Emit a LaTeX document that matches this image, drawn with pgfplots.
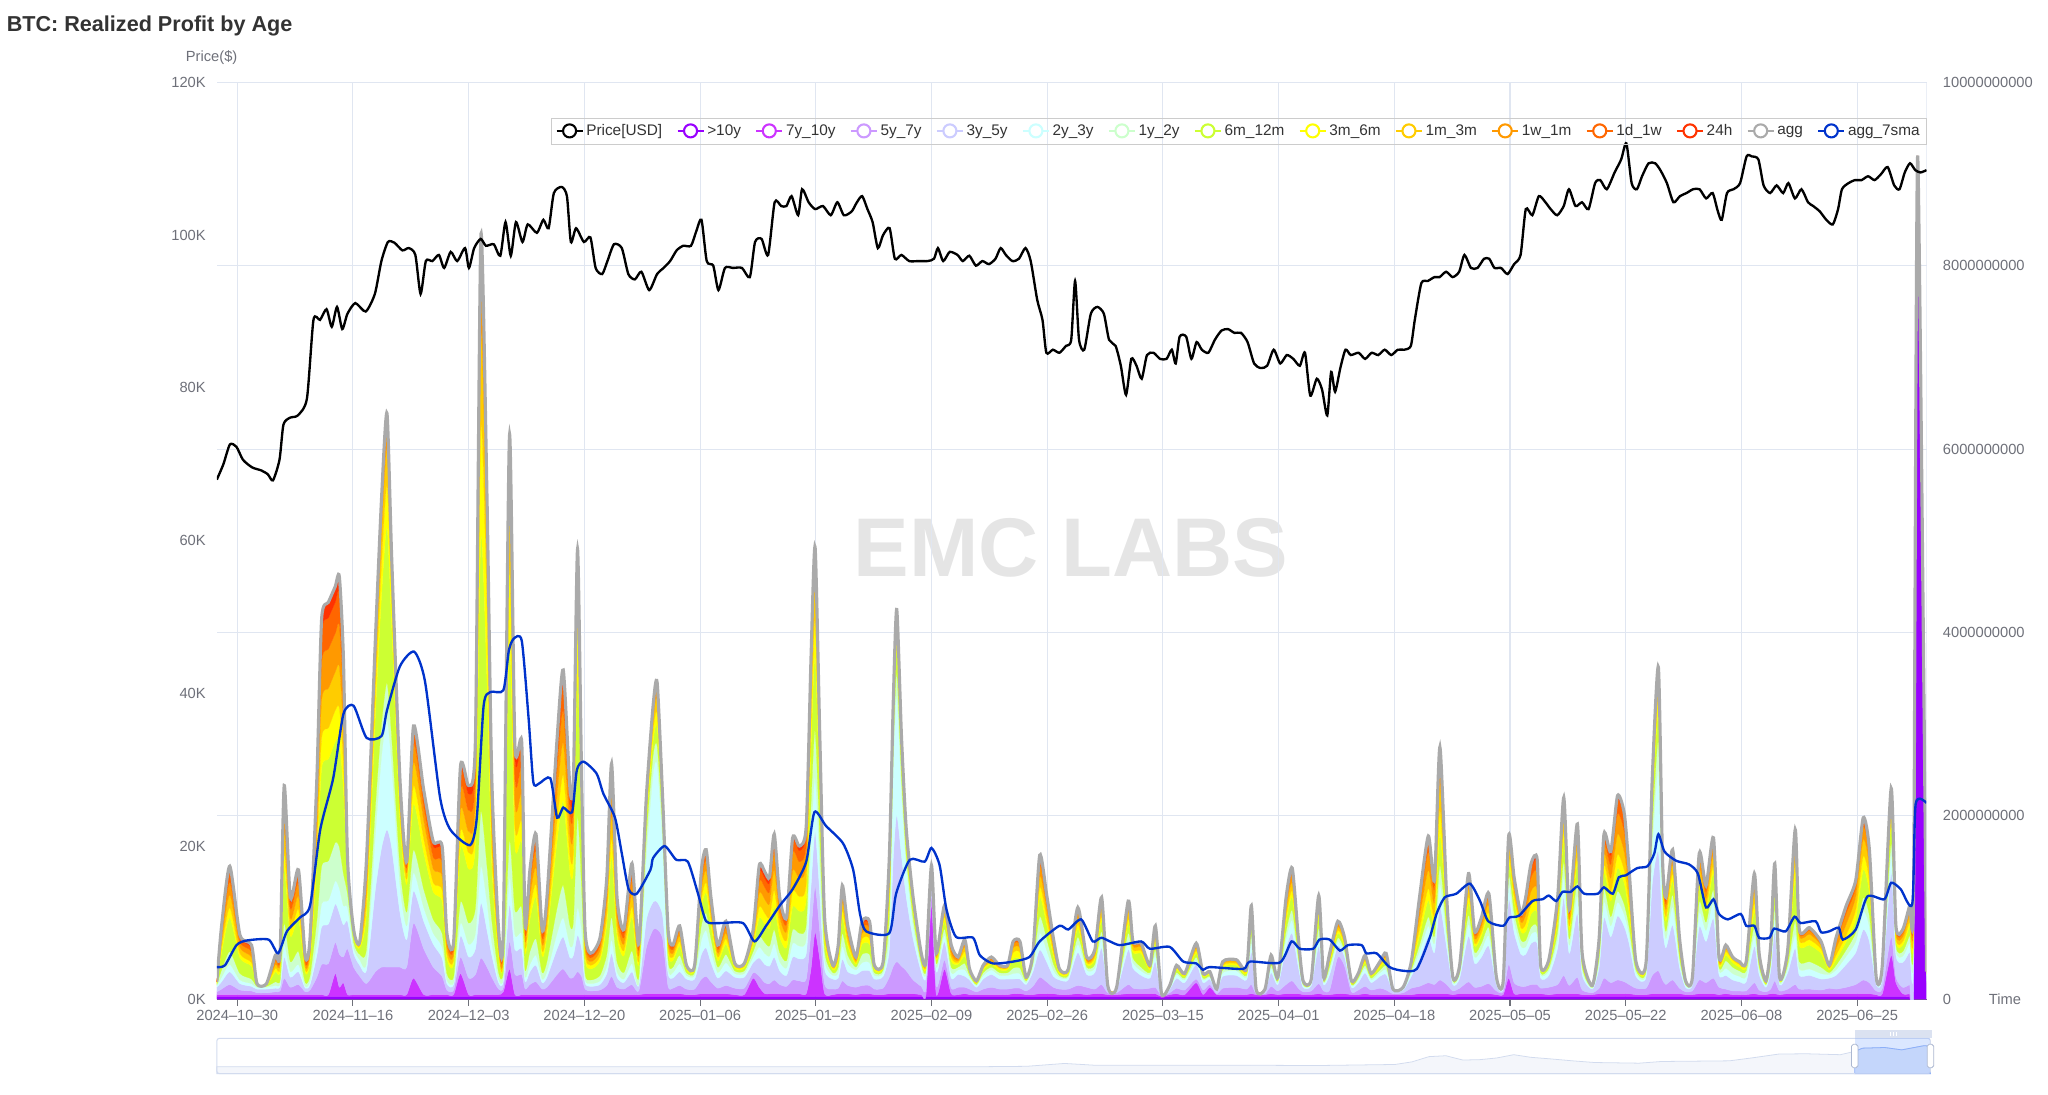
\documentclass[border=0pt]{standalone}
\usepackage{pgfplots}
\pgfplotsset{compat=1.18}
\usepackage{pgfplotstable}
\usepackage{fontspec}
\setmainfont{Liberation Sans}

\definecolor{c1}{HTML}{9900FF}
\definecolor{c2}{HTML}{CC33FF}
\definecolor{c3}{HTML}{CC99FF}
\definecolor{c4}{HTML}{CCCCFF}
\definecolor{c5}{HTML}{CCFFFF}
\definecolor{c6}{HTML}{CCFFCC}
\definecolor{c7}{HTML}{CCFF33}
\definecolor{c8}{HTML}{FFFF00}
\definecolor{c9}{HTML}{FFCC00}
\definecolor{c10}{HTML}{FF9900}
\definecolor{c11}{HTML}{FF6600}
\definecolor{c12}{HTML}{FF3300}
\definecolor{aggc}{HTML}{AAAAAA}
\definecolor{smac}{HTML}{0033CC}
\definecolor{labelgray}{HTML}{6E7079}
\definecolor{gridc}{HTML}{E0E6F1}
\definecolor{titlec}{HTML}{333333}
\definecolor{legtext}{HTML}{333333}
\definecolor{wmc}{HTML}{E5E5E5}
\definecolor{sldb}{HTML}{D2DBEE}
\definecolor{sldsel}{HTML}{8FB0F7}
\definecolor{sldfill}{RGB}{135,175,255}
\definecolor{handleb}{HTML}{ACB8D1}
\newcommand\tickfont{\fontsize{11.3}{13}\selectfont}
\newcommand\legfont{\fontsize{11.8}{13}\selectfont}

% realized profit by age cohort, in 1e9 USD; d = days from 2024-10-27
\pgfplotstableread{
d L1 L2 L3 L4 L5 L6 L7 L8 L9 L10 L11 L12
0 0.03 0.02 0.03 0.05 0.02 0.01 0.01 0.01 0.01 0 0 0
0.7 0.03 0.02 0.06 0.08 0.05 0.08 0.19 0.06 0.07 0.07 0.06 0.03
1.9 0.03 0.02 0.11 0.14 0.08 0.14 0.37 0.11 0.14 0.14 0.11 0.06
3.4 0.03 0.02 0.05 0.07 0.04 0.07 0.17 0.05 0.07 0.06 0.05 0.02
5.1 0.03 0.02 0.04 0.05 0.03 0.05 0.14 0.04 0.06 0.06 0.04 0.03
5.9 0.03 0.02 0.02 0.04 0.02 0.01 0.01 0.01 0.01 0 0 0
7.3 0.03 0.02 0.02 0.04 0.02 0.01 0.01 0.01 0.01 0 0 0
8.6 0.03 0.02 0.03 0.04 0.03 0.04 0.11 0.04 0.04 0.04 0.04 0.02
9.3 0.03 0.02 0.04 0.05 0.03 0.04 0.11 0.04 0.05 0.04 0.04 0.01
9.9 0.03 0.02 0.18 0.23 0.14 0.23 0.59 0.18 0.23 0.23 0.18 0.09
10.8 0.03 0.02 0.08 0.11 0.06 0.11 0.28 0.08 0.11 0.11 0.08 0.04
12.0 0.03 0.02 0.11 0.14 0.08 0.14 0.35 0.11 0.14 0.14 0.11 0.04
13.0 0.03 0.02 0.03 0.04 0.02 0.04 0.11 0.03 0.04 0.04 0.04 0.02
13.7 0.03 0.02 0.05 0.06 0.04 0.06 0.16 0.05 0.06 0.06 0.05 0.03
14.7 0.03 0.02 0.19 0.24 0.14 0.24 0.61 0.19 0.24 0.24 0.19 0.08
15.4 0.03 0.02 0.33 0.41 0.25 0.41 1.07 0.33 0.41 0.41 0.33 0.15
16.4 0.03 0.02 0.34 0.43 0.26 0.43 1.11 0.34 0.43 0.43 0.34 0.17
17.4 0.03 0.25 0.34 0.42 0.25 0.42 1.10 0.34 0.42 0.42 0.34 0.17
18.0 0.03 0.10 0.36 0.45 0.27 0.45 1.16 0.36 0.45 0.45 0.36 0.17
18.6 0.03 0.15 0.28 0.35 0.21 0.35 0.92 0.28 0.35 0.35 0.28 0.17
19.2 0.03 0.02 0.5 0.3 0.15 0.15 0.2 0.05 0.05 0.04 0.03 0.02
20.1 0.03 0.02 0.3 0.15 0.06 0.06 0.06 0.03 0.02 0.01 0.01 0.01
21.0 0.03 0.02 0.2 0.12 0.06 0.06 0.07 0.02 0.02 0.01 0.01 0.01
22.0 0.03 0.02 0.12 0.15 0.09 0.15 0.39 0.12 0.15 0.15 0.12 0.05
23.3 0.03 0.02 0.25 0.9 0.6 0.3 1.0 0.25 0.25 0.18 0.1 0.05
24.2 0.03 0.02 0.3 1.3 1.0 0.35 1.4 0.35 0.35 0.2 0.1 0.06
25.0 0.03 0.02 0.3 1.5 1.2 0.4 1.7 0.45 0.4 0.2 0.12 0.07
25.7 0.03 0.02 0.3 1.3 0.9 0.3 1.2 0.3 0.25 0.1 0.06 0.04
26.9 0.03 0.02 0.3 0.6 0.3 0.2 0.5 0.12 0.12 0.1 0.08 0.04
27.9 0.03 0.02 0.3 0.3 0.15 0.15 0.3 0.06 0.07 0.05 0.04 0.03
28.9 0.03 0.2 0.6 0.35 0.2 0.25 0.5 0.2 0.25 0.2 0.15 0.05
30.4 0.03 0.02 0.5 0.3 0.15 0.2 0.4 0.15 0.2 0.15 0.13 0.05
31.8 0.03 0.02 0.3 0.25 0.12 0.15 0.3 0.1 0.15 0.13 0.12 0.05
33.1 0.03 0.02 0.2 0.2 0.12 0.15 0.35 0.12 0.15 0.15 0.13 0.05
33.8 0.03 0.02 0.05 0.07 0.04 0.07 0.17 0.05 0.07 0.07 0.05 0.03
34.8 0.03 0.02 0.05 0.06 0.03 0.06 0.15 0.05 0.06 0.06 0.04 0.02
35.8 0.03 0.25 0.18 0.23 0.14 0.23 0.59 0.18 0.23 0.23 0.18 0.07
37.0 0.03 0.02 0.18 0.23 0.14 0.23 0.59 0.18 0.23 0.23 0.18 0.09
38.0 0.03 0.02 0.22 0.28 0.17 0.28 0.73 0.22 0.28 0.28 0.22 0.12
38.8 0.03 0.02 0.4 0.6 0.4 0.6 3.0 1.2 1.0 0.6 0.35 0.13
39.7 0.03 0.02 0.3 0.4 0.3 0.4 2.0 0.8 0.6 0.35 0.18 0.08
40.4 0.03 0.02 0.19 0.24 0.14 0.24 0.61 0.19 0.24 0.24 0.19 0.08
41.4 0.03 0.02 0.06 0.07 0.04 0.07 0.18 0.06 0.07 0.07 0.06 0.03
42.1 0.03 0.05 0.05 0.07 0.04 0.07 0.18 0.05 0.07 0.07 0.05 0.03
43.0 0.03 0.3 0.3 0.4 0.3 0.4 2.2 0.8 0.7 0.4 0.22 0.1
43.8 0.03 0.02 0.22 0.27 0.16 0.27 0.70 0.22 0.27 0.27 0.22 0.11
44.8 0.03 0.02 0.22 0.28 0.17 0.28 0.71 0.22 0.28 0.28 0.22 0.09
45.3 0.03 0.02 0.06 0.08 0.05 0.08 0.19 0.06 0.07 0.07 0.06 0.03
46.0 0.03 0.02 0.11 0.14 0.08 0.14 0.35 0.11 0.14 0.14 0.11 0.04
46.9 0.03 0.02 0.14 0.18 0.11 0.18 0.45 0.14 0.18 0.18 0.14 0.05
47.8 0.03 0.02 0.06 0.07 0.04 0.07 0.18 0.06 0.07 0.07 0.06 0.03
48.5 0.03 0.02 0.08 0.11 0.06 0.11 0.28 0.08 0.11 0.11 0.08 0.04
50.0 0.03 0.02 0.22 0.28 0.17 0.28 0.73 0.22 0.28 0.28 0.22 0.12
50.9 0.03 0.02 0.28 0.35 0.21 0.35 0.92 0.28 0.35 0.35 0.28 0.17
51.9 0.03 0.02 0.18 0.22 0.13 0.22 0.58 0.18 0.22 0.22 0.18 0.10
52.4 0.03 0.02 0.19 0.24 0.14 0.24 0.61 0.19 0.24 0.24 0.19 0.08
53.0 0.03 0.02 0.25 0.4 0.3 1.0 1.5 0.6 0.4 0.22 0.13 0.06
53.6 0.03 0.02 0.2 0.3 0.2 0.45 0.6 0.2 0.17 0.12 0.08 0.04
54.1 0.03 0.02 0.06 0.07 0.04 0.07 0.18 0.06 0.07 0.07 0.06 0.03
54.9 0.03 0.02 0.04 0.05 0.03 0.04 0.12 0.04 0.04 0.04 0.03 0.02
56.3 0.03 0.02 0.05 0.06 0.04 0.06 0.16 0.05 0.06 0.06 0.05 0.03
57.3 0.03 0.02 0.10 0.13 0.08 0.13 0.33 0.10 0.13 0.13 0.10 0.05
58.0 0.03 0.02 0.20 0.25 0.15 0.25 0.66 0.20 0.25 0.25 0.20 0.11
58.8 0.03 0.02 0.08 0.11 0.06 0.11 0.28 0.08 0.11 0.11 0.08 0.04
59.8 0.03 0.02 0.06 0.07 0.04 0.07 0.18 0.06 0.07 0.07 0.06 0.03
61.0 0.03 0.02 0.11 0.14 0.09 0.14 0.37 0.11 0.14 0.14 0.11 0.08
62.0 0.03 0.02 0.04 0.06 0.03 0.06 0.14 0.04 0.06 0.06 0.04 0.02
63.1 0.03 0.03 0.5 0.3 0.7 0.2 0.15 0.1 0.08 0.06 0.03 0.02
64.1 0.03 0.03 0.7 0.3 1.4 0.2 0.15 0.12 0.12 0.08 0.04 0.03
64.7 0.03 0.03 0.7 0.3 1.5 0.2 0.2 0.15 0.15 0.1 0.06 0.03
65.5 0.03 0.03 0.6 0.25 0.8 0.15 0.13 0.1 0.05 0.03 0.02 0.01
66.3 0.03 0.03 0.08 0.14 0.08 0.08 0.10 0.05 0.06 0.05 0.04 0.02
67.0 0.03 0.03 0.06 0.11 0.06 0.06 0.07 0.04 0.04 0.04 0.03 0.02
68.0 0.03 0.03 0.09 0.15 0.09 0.09 0.10 0.05 0.06 0.05 0.04 0.02
69.0 0.03 0.02 0.06 0.11 0.04 0.03 0.03 0.02 0.01 0.01 0.01 0
70.2 0.03 0.02 0.06 0.11 0.04 0.03 0.03 0.02 0.01 0.01 0.01 0
71.2 0.03 0.03 0.16 0.27 0.16 0.16 0.19 0.09 0.11 0.09 0.07 0.05
71.9 0.03 0.03 0.19 0.31 0.19 0.19 0.22 0.11 0.13 0.11 0.08 0.04
72.6 0.03 0.03 0.13 0.21 0.13 0.13 0.15 0.07 0.08 0.07 0.05 0.03
73.6 0.03 0.03 0.06 0.11 0.06 0.06 0.07 0.04 0.04 0.04 0.03 0.02
74.8 0.03 0.03 0.09 0.16 0.09 0.09 0.11 0.06 0.06 0.06 0.04 0.03
76.1 0.03 0.02 0.07 0.12 0.04 0.03 0.03 0.02 0.02 0.01 0 0
77.5 0.03 0.02 0.07 0.12 0.04 0.03 0.03 0.02 0.02 0.01 0 0
78.8 0.03 0.2 0.06 0.11 0.06 0.06 0.07 0.04 0.04 0.04 0.03 0.02
79.7 0.03 0.1 0.12 0.2 0.12 0.12 0.2 0.12 0.15 0.13 0.1 0.07
80.5 0.03 0.03 0.12 0.2 0.12 0.12 0.2 0.12 0.15 0.13 0.1 0.07
81.2 0.03 0.03 0.11 0.19 0.11 0.11 0.19 0.12 0.15 0.13 0.1 0.06
81.9 0.03 0.03 0.15 0.25 0.15 0.15 0.25 0.18 0.22 0.2 0.12 0.07
82.7 0.03 0.03 0.1 0.15 0.1 0.1 0.17 0.1 0.12 0.1 0.07 0.04
83.7 0.03 0.03 0.08 0.12 0.08 0.08 0.14 0.08 0.1 0.08 0.05 0.02
84.6 0.03 0.03 0.15 0.25 0.15 0.15 0.25 0.17 0.22 0.2 0.12 0.04
85.6 0.03 0.03 0.14 0.24 0.14 0.14 0.24 0.16 0.2 0.18 0.12 0.05
86.6 0.03 0.03 0.16 0.28 0.16 0.16 0.28 0.18 0.22 0.2 0.14 0.05
87.3 0.03 0.3 0.4 0.5 0.5 0.4 0.6 0.3 0.3 0.2 0.12 0.07
87.9 0.03 0.7 0.5 0.6 0.6 0.5 0.8 0.4 0.4 0.25 0.1 0.05
88.6 0.03 0.4 0.3 0.4 0.3 0.3 0.4 0.2 0.2 0.15 0.1 0.07
89.3 0.03 0.03 0.1 0.17 0.1 0.1 0.12 0.06 0.07 0.06 0.04 0.01
90.5 0.03 0.02 0.06 0.11 0.04 0.03 0.03 0.02 0.01 0.01 0.01 0
91.3 0.03 0.03 0.06 0.11 0.06 0.06 0.07 0.04 0.04 0.04 0.03 0.02
91.9 0.03 0.03 0.14 0.24 0.14 0.14 0.17 0.08 0.09 0.08 0.06 0.04
92.7 0.03 0.03 0.09 0.15 0.09 0.09 0.10 0.05 0.06 0.05 0.04 0.02
93.9 0.03 0.02 0.08 0.14 0.05 0.03 0.03 0.02 0.02 0.02 0.01 0.01
94.8 0.03 0.03 0.09 0.16 0.09 0.09 0.11 0.06 0.06 0.06 0.04 0.03
95.9 0.03 0.03 0.09 0.16 0.09 0.09 0.11 0.06 0.06 0.06 0.04 0.03
96.6 0.03 0.02 0.06 0.11 0.04 0.03 0.03 0.02 0.01 0.01 0.01 0
97.9 0.03 0.02 0.07 0.13 0.04 0.03 0.03 0.02 0.02 0.01 0.01 0
98.8 0.03 0.03 0.18 0.3 0.18 0.18 0.2 0.1 0.12 0.1 0.08 0.04
99.4 0.03 0.03 0.3 1.2 1.0 0.2 0.2 0.1 0.1 0.05 0.04 0.03
99.9 0.03 0.03 0.35 1.6 1.3 0.25 0.25 0.15 0.12 0.08 0.05 0.04
100.6 0.03 0.03 0.3 1.2 0.7 0.15 0.15 0.1 0.08 0.05 0.04 0.02
101.3 0.03 0.03 0.25 0.8 0.35 0.1 0.1 0.05 0.05 0.04 0.03 0.02
102.3 0.03 0.03 0.15 0.45 0.15 0.08 0.08 0.04 0.04 0.03 0.02 0.01
103.5 0.03 0.02 0.09 0.16 0.05 0.04 0.04 0.02 0.02 0.02 0.01 0
104.2 0.03 0.02 0.07 0.13 0.04 0.03 0.03 0.02 0.02 0.01 0.01 0
105.0 0.03 1.0 0.1 0.15 0.05 0.03 0.03 0.02 0.02 0.02 0.01 0
105.7 0.03 0.02 0.09 0.16 0.05 0.04 0.04 0.02 0.02 0.02 0.01 0
106.9 0.03 0.3 0.1 0.2 0.07 0.07 0.08 0.05 0.05 0.04 0.02 0.01
107.9 0.03 0.03 0.06 0.11 0.06 0.06 0.07 0.04 0.04 0.04 0.03 0.02
108.9 0.03 0.02 0.08 0.14 0.05 0.03 0.03 0.02 0.02 0.02 0.01 0.01
109.9 0.03 0.03 0.07 0.12 0.07 0.07 0.08 0.05 0.05 0.04 0.03 0.01
110.6 0.03 0.02 0.06 0.1 0.03 0.02 0.02 0.02 0.01 0.01 0.01 0
111.6 0.03 0.02 0.03 0.05 0.02 0.01 0.01 0.01 0.01 0.01 0 0
112.6 0.03 0.02 0.06 0.11 0.04 0.03 0.03 0.02 0.01 0.01 0.01 0
113.8 0.03 0.02 0.08 0.14 0.05 0.03 0.03 0.02 0.02 0.02 0.01 0.01
115.0 0.03 0.02 0.06 0.11 0.04 0.03 0.03 0.02 0.01 0.01 0.01 0
116.2 0.03 0.02 0.06 0.11 0.04 0.03 0.03 0.02 0.01 0.01 0.01 0
117.0 0.03 0.03 0.06 0.1 0.06 0.06 0.1 0.07 0.05 0.04 0.02 0.01
118.0 0.03 0.03 0.06 0.1 0.06 0.06 0.1 0.07 0.05 0.04 0.02 0.01
118.9 0.03 0.02 0.04 0.07 0.02 0.02 0.01 0.01 0.01 0.01 0 0
119.9 0.03 0.02 0.09 0.16 0.05 0.04 0.04 0.02 0.02 0.02 0.01 0
120.9 0.03 0.03 0.18 0.3 0.18 0.18 0.21 0.11 0.12 0.11 0.08 0.04
121.9 0.03 0.03 0.13 0.22 0.13 0.13 0.15 0.08 0.09 0.08 0.05 0.03
122.9 0.03 0.03 0.07 0.12 0.07 0.07 0.09 0.04 0.05 0.04 0.04 0.02
123.8 0.03 0.02 0.06 0.1 0.03 0.02 0.02 0.02 0.01 0.01 0.01 0
125.1 0.03 0.02 0.06 0.1 0.03 0.02 0.02 0.02 0.01 0.01 0.01 0
126.5 0.03 0.03 0.09 0.36 0.09 0.08 0.09 0.05 0.07 0.06 0.04 0.01
127.8 0.03 0.02 0.08 0.14 0.05 0.03 0.03 0.02 0.02 0.02 0.01 0.01
129.0 0.03 0.03 0.05 0.18 0.05 0.04 0.05 0.03 0.03 0.03 0.01 0.01
130.0 0.03 0.03 0.1 0.4 0.1 0.08 0.11 0.05 0.08 0.06 0.04 0.03
130.9 0.03 0.02 0.02 0.04 0.01 0.01 0.01 0.01 0 0 0 0
132.2 0.03 0.02 0.02 0.03 0.01 0.01 0.01 0 0 0 0 0
133.9 0.03 0.03 0.1 0.38 0.1 0.08 0.1 0.05 0.08 0.06 0.04 0.02
134.6 0.03 0.03 0.06 0.22 0.06 0.05 0.06 0.03 0.04 0.03 0.01 0.01
135.8 0.03 0.03 0.05 0.15 0.05 0.04 0.15 0.03 0.04 0.02 0.01 0.01
137.1 0.03 0.03 0.06 0.11 0.04 0.02 0.03 0.02 0.01 0.01 0.01 0
137.9 0.03 0.03 0.07 0.28 0.07 0.06 0.07 0.04 0.05 0.05 0.03 0.02
138.8 0.02 0.01 0.01 0.02 0 0 0 0 0 0 0 0
140.0 0.03 0.02 0.02 0.04 0.01 0.01 0.01 0.01 0 0 0 0
141.0 0.03 0.03 0.06 0.11 0.04 0.02 0.03 0.02 0.01 0.01 0.01 0
142.2 0.03 0.02 0.05 0.08 0.03 0.02 0.02 0.01 0.01 0.01 0 0
143.9 0.03 0.15 0.04 0.16 0.04 0.04 0.04 0.03 0.03 0.03 0.01 0.01
144.9 0.03 0.02 0.05 0.08 0.03 0.02 0.02 0.01 0.01 0.01 0 0
145.9 0.03 0.1 0.03 0.06 0.02 0.01 0.02 0.01 0.01 0.01 0 0
146.9 0.03 0.02 0.01 0.03 0.01 0.01 0 0 0 0 0 0
147.8 0.03 0.02 0.07 0.13 0.04 0.03 0.03 0.02 0.02 0.01 0.01 0
149.8 0.03 0.02 0.08 0.13 0.05 0.03 0.03 0.02 0.02 0.02 0 0
151.3 0.03 0.02 0.06 0.1 0.03 0.02 0.02 0.02 0.01 0.01 0.01 0
152.0 0.03 0.03 0.1 0.36 0.1 0.08 0.1 0.05 0.07 0.06 0.03 0.01
152.7 0.03 0.02 0.01 0.03 0.01 0.01 0 0 0 0 0 0
154.0 0.03 0.02 0.01 0.03 0.01 0.01 0 0 0 0 0 0
154.9 0.03 0.03 0.08 0.15 0.05 0.03 0.03 0.02 0.02 0.02 0.01 0.01
155.9 0.03 0.02 0.04 0.07 0.02 0.02 0.01 0.01 0.01 0.01 0 0
157.1 0.03 0.03 0.1 0.4 0.1 0.08 0.11 0.05 0.08 0.06 0.04 0.03
158.0 0.03 0.03 0.14 0.52 0.14 0.11 0.14 0.07 0.09 0.08 0.05 0.03
158.9 0.03 0.03 0.06 0.23 0.06 0.05 0.06 0.03 0.05 0.04 0.02 0.01
159.6 0.03 0.02 0.03 0.05 0.02 0.01 0.01 0.01 0.01 0.01 0 0
160.8 0.03 0.02 0.04 0.06 0.02 0.01 0.01 0.01 0.01 0.01 0 0
161.9 0.03 0.03 0.11 0.41 0.11 0.09 0.11 0.05 0.07 0.06 0.04 0.02
162.6 0.03 0.02 0.04 0.07 0.02 0.02 0.01 0.01 0.01 0.01 0 0
163.5 0.03 0.02 0.05 0.17 0.05 0.04 0.04 0.02 0.03 0.03 0.01 0.01
164.7 0.03 0.03 0.4 0.12 0.05 0.04 0.05 0.03 0.04 0.03 0.02 0.01
165.7 0.03 0.03 0.3 0.1 0.04 0.03 0.04 0.03 0.03 0.02 0.01 0.01
166.7 0.03 0.02 0.03 0.05 0.02 0.01 0.01 0.01 0.01 0.01 0 0
167.7 0.03 0.02 0.05 0.08 0.03 0.02 0.02 0.01 0.01 0.01 0 0
168.7 0.03 0.03 0.08 0.15 0.05 0.03 0.03 0.02 0.02 0.02 0.01 0.01
169.6 0.03 0.02 0.05 0.08 0.03 0.02 0.02 0.01 0.01 0.01 0 0
170.9 0.03 0.02 0.07 0.13 0.04 0.03 0.03 0.02 0.02 0.01 0.01 0
171.8 0.03 0.02 0.05 0.17 0.05 0.04 0.04 0.02 0.03 0.03 0.01 0.01
172.8 0.03 0.02 0.01 0.03 0.01 0.01 0 0 0 0 0 0
174.3 0.03 0.02 0.02 0.03 0.01 0.01 0.01 0 0 0 0 0
175.5 0.03 0.02 0.07 0.13 0.04 0.03 0.03 0.02 0.02 0.01 0.01 0
176.7 0.03 0.03 0.08 0.3 0.08 0.07 0.1 0.08 0.12 0.12 0.07 0.03
178.0 0.03 0.03 0.12 0.5 0.12 0.1 0.18 0.13 0.2 0.2 0.12 0.05
178.9 0.03 0.03 0.1 0.35 0.1 0.08 0.13 0.1 0.14 0.14 0.07 0.03
179.7 0.03 0.03 0.15 0.8 0.25 0.2 0.35 0.25 0.3 0.2 0.12 0.07
180.7 0.03 0.03 0.1 0.4 0.1 0.08 0.11 0.05 0.08 0.06 0.04 0.03
181.6 0.03 0.02 0.04 0.07 0.02 0.02 0.01 0.01 0.01 0.01 0 0
182.6 0.03 0.03 0.06 0.11 0.04 0.02 0.03 0.02 0.01 0.01 0.01 0
183.9 0.03 0.03 0.13 0.5 0.13 0.1 0.13 0.07 0.09 0.08 0.05 0.03
184.8 0.03 0.03 0.07 0.26 0.07 0.05 0.07 0.03 0.05 0.04 0.03 0.01
185.8 0.03 0.03 0.08 0.32 0.08 0.07 0.08 0.04 0.06 0.05 0.03 0.02
186.9 0.03 0.03 0.11 0.41 0.11 0.09 0.11 0.05 0.08 0.07 0.04 0.02
188.0 0.03 0.02 0.04 0.07 0.02 0.02 0.01 0.01 0.01 0.01 0 0
189.0 0.03 0.02 0.03 0.05 0.02 0.01 0.01 0.01 0.01 0.01 0 0
189.8 0.03 0.2 0.15 0.7 0.15 0.1 0.12 0.07 0.1 0.08 0.05 0.03
190.6 0.03 0.03 0.12 0.55 0.12 0.1 0.12 0.06 0.08 0.07 0.03 0.02
191.6 0.03 0.03 0.08 0.35 0.09 0.07 0.09 0.04 0.06 0.05 0.03 0.01
192.3 0.03 0.03 0.08 0.35 0.08 0.07 0.1 0.08 0.1 0.1 0.06 0.03
193.1 0.03 0.03 0.1 0.45 0.1 0.08 0.14 0.1 0.15 0.15 0.1 0.05
194.0 0.03 0.03 0.1 0.45 0.1 0.08 0.15 0.1 0.15 0.17 0.11 0.05
194.5 0.03 0.03 0.06 0.11 0.04 0.02 0.03 0.02 0.01 0.01 0.01 0
195.7 0.03 0.02 0.08 0.13 0.05 0.03 0.03 0.02 0.02 0.02 0 0
197.0 0.03 0.03 0.1 0.4 0.1 0.08 0.11 0.05 0.08 0.06 0.04 0.03
197.9 0.03 0.03 0.2 0.85 0.22 0.17 0.22 0.11 0.15 0.12 0.07 0.03
198.7 0.03 0.03 0.09 0.35 0.09 0.07 0.09 0.05 0.07 0.06 0.03 0.02
199.9 0.03 0.03 0.18 0.7 0.19 0.15 0.19 0.09 0.13 0.11 0.07 0.04
200.6 0.03 0.02 0.05 0.17 0.05 0.04 0.04 0.02 0.03 0.03 0.01 0.01
202.1 0.03 0.02 0.02 0.04 0.01 0.01 0.01 0.01 0 0 0 0
203.1 0.03 0.03 0.06 0.23 0.06 0.05 0.06 0.03 0.05 0.04 0.02 0.01
203.8 0.03 0.03 0.17 0.66 0.17 0.14 0.17 0.09 0.12 0.1 0.08 0.04
204.8 0.03 0.03 0.12 0.5 0.12 0.1 0.17 0.1 0.15 0.15 0.1 0.04
205.8 0.03 0.03 0.15 0.7 0.15 0.12 0.25 0.15 0.22 0.22 0.15 0.05
206.8 0.03 0.03 0.13 0.6 0.13 0.11 0.23 0.14 0.2 0.22 0.15 0.05
207.5 0.03 0.03 0.1 0.45 0.1 0.08 0.15 0.1 0.14 0.12 0.08 0.03
208.5 0.03 0.02 0.07 0.13 0.04 0.03 0.03 0.02 0.02 0.01 0.01 0
210.0 0.03 0.02 0.07 0.13 0.04 0.03 0.03 0.02 0.02 0.01 0.01 0
210.9 0.03 0.03 0.2 1.0 0.4 0.2 0.2 0.1 0.1 0.08 0.05 0.02
211.8 0.03 0.03 0.25 1.3 0.9 0.3 0.3 0.15 0.2 0.1 0.04 0.02
212.4 0.03 0.03 0.15 0.6 0.25 0.12 0.12 0.07 0.08 0.05 0.03 0.01
212.9 0.03 0.03 0.1 0.4 0.1 0.08 0.11 0.05 0.08 0.06 0.04 0.03
213.9 0.03 0.03 0.15 0.6 0.2 0.13 0.15 0.08 0.1 0.08 0.05 0.03
214.9 0.03 0.03 0.06 0.23 0.06 0.05 0.06 0.03 0.05 0.04 0.02 0.01
215.8 0.03 0.02 0.03 0.05 0.02 0.01 0.01 0.01 0.01 0.01 0 0
216.8 0.03 0.02 0.04 0.07 0.02 0.02 0.01 0.01 0.01 0.01 0 0
217.8 0.03 0.03 0.15 0.58 0.15 0.12 0.15 0.08 0.11 0.1 0.06 0.03
218.8 0.03 0.03 0.12 0.45 0.12 0.09 0.12 0.06 0.08 0.07 0.05 0.02
219.9 0.03 0.03 0.17 0.65 0.17 0.14 0.17 0.08 0.12 0.1 0.07 0.03
220.7 0.03 0.02 0.08 0.14 0.05 0.03 0.03 0.02 0.02 0.02 0.01 0.01
221.7 0.03 0.03 0.05 0.15 0.08 0.08 0.06 0.04 0.03 0.02 0.01 0.01
222.7 0.03 0.02 0.04 0.12 0.07 0.07 0.05 0.03 0.02 0.01 0 0
223.7 0.03 0.02 0.04 0.1 0.06 0.06 0.04 0.03 0.02 0.01 0 0
224.7 0.03 0.02 0.04 0.1 0.06 0.06 0.04 0.03 0.02 0.01 0 0
225.9 0.03 0.03 0.12 0.4 0.12 0.1 0.15 0.1 0.12 0.1 0.07 0.03
226.6 0.03 0.02 0.05 0.17 0.05 0.04 0.04 0.02 0.03 0.03 0.01 0.01
227.6 0.03 0.02 0.03 0.05 0.02 0.01 0.01 0.01 0.01 0.01 0 0
228.3 0.03 0.03 0.05 0.2 0.05 0.04 0.05 0.03 0.04 0.04 0.02 0.01
228.9 0.03 0.03 0.14 0.54 0.14 0.11 0.14 0.07 0.1 0.09 0.06 0.03
229.6 0.03 0.02 0.04 0.07 0.02 0.02 0.01 0.01 0.01 0.01 0 0
230.8 0.03 0.03 0.05 0.18 0.05 0.04 0.05 0.03 0.03 0.03 0.01 0.01
231.9 0.03 0.03 0.1 0.4 0.15 0.15 0.45 0.15 0.15 0.12 0.08 0.04
232.5 0.03 0.03 0.05 0.15 0.07 0.08 0.18 0.06 0.05 0.03 0.02 0.01
234.0 0.03 0.03 0.05 0.15 0.07 0.08 0.18 0.06 0.06 0.04 0.02 0.01
235.7 0.03 0.03 0.04 0.12 0.06 0.07 0.15 0.05 0.04 0.02 0.01 0.01
236.9 0.03 0.03 0.06 0.11 0.04 0.02 0.03 0.02 0.01 0.01 0.01 0
237.9 0.03 0.03 0.05 0.15 0.06 0.05 0.06 0.05 0.07 0.07 0.04 0.01
239.4 0.03 0.03 0.07 0.25 0.09 0.07 0.09 0.07 0.12 0.12 0.06 0.02
240.8 0.03 0.03 0.1 0.35 0.12 0.1 0.15 0.1 0.14 0.1 0.06 0.02
241.9 0.03 0.03 0.15 0.55 0.2 0.15 0.3 0.15 0.18 0.14 0.07 0.03
242.8 0.03 0.03 0.12 0.45 0.16 0.12 0.25 0.12 0.15 0.12 0.06 0.02
243.8 0.03 0.02 0.04 0.07 0.02 0.02 0.01 0.01 0.01 0.01 0 0
244.7 0.03 0.03 0.06 0.11 0.04 0.02 0.03 0.02 0.01 0.01 0.01 0
246.0 0.03 0.45 0.2 0.7 0.2 0.12 0.2 0.08 0.12 0.1 0.06 0.04
246.7 0.03 0.15 0.06 0.24 0.06 0.05 0.06 0.03 0.05 0.04 0.02 0.01
247.7 0.03 0.03 0.07 0.27 0.07 0.05 0.07 0.04 0.05 0.04 0.03 0.01
248.7 0.03 0.03 0.1 0.36 0.1 0.08 0.1 0.05 0.07 0.06 0.03 0.01
249.3 0.05 0.05 0.1 0.4 0.12 0.09 0.12 0.06 0.08 0.06 0.04 0.03
249.9 8.4 0.25 0.05 0.2 0.05 0.04 0.06 0.03 0.05 0.04 0.02 0.01
251.2 0.15 0.03 0.02 0.05 0.01 0.01 0.01 0.01 0.01 0 0 0
}\layers
\pgfplotstablecreatecol[create col/expr={\thisrow{L1}+\thisrow{L2}+\thisrow{L3}+\thisrow{L4}+\thisrow{L5}+\thisrow{L6}+\thisrow{L7}+\thisrow{L8}+\thisrow{L9}+\thisrow{L10}+\thisrow{L11}+\thisrow{L12}}]{agg}{\layers}

\begin{document}
\begin{tikzpicture}
\useasboundingbox (0,0) rectangle (1568bp,838bp);

% watermark
\node[text=wmc, font=\fontsize{64}{64}\selectfont\bfseries] at (820bp,418.5bp) {EMC LABS};

\begin{axis}[
  at={(166bp,73bp)}, anchor=south west,
  width=1309bp, height=702bp, scale only axis,
  xmin=0, xmax=251.2, ymin=0, ymax=10,
  axis x line*=bottom, axis y line*=right,
  x axis line style={labelgray, line width=0.8bp},
  y axis line style={draw=none},
  xtick={3,20,37,54,71,88,105,122,139,156,173,190,207,224,241},
  xticklabels={2024--10--30,2024--11--16,2024--12--03,2024--12--20,2025--01--06,2025--01--23,2025--02--09,2025--02--26,2025--03--15,2025--04--01,2025--04--18,2025--05--05,2025--05--22,2025--06--08,2025--06--25},
  ytick={0,2,4,6,8,10},
  yticklabels={0,2000000000,4000000000,6000000000,8000000000,10000000000},
  tick align=outside, major tick length=5bp,
  xtick style={labelgray, line width=0.8bp},
  ytick style={draw=none},
  xmajorgrids, ymajorgrids,
  grid style={gridc, line width=0.8bp},
  ticklabel style={font=\tickfont, text=labelgray},
  yticklabel style={xshift=4bp},
]
\pgfplotsinvokeforeach{1,...,12}{
  \addplot[stack plots=y, fill=c#1, draw=c#1, line width=0.2bp, smooth, tension=0.4] table[x=d, y=L#1]{\layers} \closedcycle;
}
\addplot[stack plots=false, aggc, line width=2.4bp, smooth, tension=0.4] table[x=d, y=agg]{\layers};
\addplot[stack plots=false, smac, line width=1.8bp, smooth, tension=0.4] coordinates {
(0,0.35) (1.2,0.37) (2.9,0.59) (4.4,0.64) (7.6,0.65) (9.0,0.5) (10.3,0.74) (12.2,0.89) (13.7,1.02) (15.2,1.85) (17.1,2.41) (18.6,3.11) (20.1,3.2) (22.0,2.85) (24.2,2.87) (25.0,3.15) (26.9,3.63) (29.0,3.79) (30.6,3.46) (32.8,2.2) (34.3,1.85) (37.2,1.68) (38.2,1.98) (39.2,3.2) (40.2,3.35) (42.1,3.37) (42.9,3.8) (43.6,3.93) (44.8,3.91) (45.8,3.07) (46.5,2.37) (47.3,2.35) (49.0,2.41) (50.0,1.98) (50.9,2.09) (52.2,2.04) (52.9,2.5) (53.9,2.59) (55.8,2.46) (56.8,2.24) (58.5,1.98) (59.5,1.59) (60.5,1.2) (61.7,1.15) (63.7,1.41) (64.1,1.54) (65.8,1.67) (67.5,1.52) (69.2,1.5) (70.7,1.15) (71.9,0.85) (73.9,0.83) (77.3,0.83) (79.0,0.63) (80.7,0.8) (82.7,1.02) (84.6,1.2) (86.6,1.5) (87.8,2.04) (89.5,1.89) (92.0,1.7) (93.5,1.41) (94.5,0.93) (95.4,0.74) (98.8,0.72) (99.8,1.15) (101.8,1.52) (104.0,1.5) (105.0,1.65) (106.2,1.46) (107.2,0.98) (108.6,0.68) (111.1,0.67) (112.1,0.48) (114.0,0.39) (117.0,0.41) (119.4,0.46) (120.9,0.63) (123.8,0.8) (125.1,0.76) (127.0,0.87) (128.7,0.63) (130.0,0.67) (132.6,0.59) (135.8,0.63) (137.1,0.55) (140.0,0.57) (142.0,0.41) (143.9,0.39) (144.9,0.32) (145.9,0.35) (150.8,0.33) (151.8,0.41) (156.2,0.4) (157.9,0.63) (159.1,0.55) (161.1,0.55) (162.0,0.65) (163.5,0.65) (165.0,0.53) (166.2,0.59) (168.2,0.59) (168.9,0.5) (170.4,0.5) (172.3,0.35) (174.3,0.31) (176.3,0.33) (178.2,0.67) (179.2,0.93) (180.4,1.11) (182.1,1.15) (184.1,1.26) (185.6,1.07) (186.8,0.85) (189.0,0.8) (189.9,0.89) (191.3,0.91) (193.3,1.07) (194.8,1.09) (195.7,1.13) (196.8,1.07) (197.7,1.17) (198.9,1.17) (199.9,1.23) (200.9,1.15) (202.9,1.15) (203.8,1.22) (205.1,1.15) (206.0,1.33) (207.0,1.35) (208.7,1.43) (210.2,1.45) (211.2,1.59) (211.8,1.8) (212.7,1.61) (214.4,1.51) (216.3,1.47) (217.6,1.37) (218.8,1.0) (219.9,1.09) (220.7,0.93) (222.0,0.87) (223.9,0.93) (224.7,0.8) (225.9,0.8) (226.6,0.67) (228.1,0.67) (228.8,0.77) (230.5,0.74) (231.8,0.9) (232.7,0.83) (234.9,0.85) (235.7,0.73) (236.9,0.74) (238.3,0.78) (238.9,0.65) (240.8,0.76) (242.5,1.12) (245.0,1.09) (246.0,1.27) (247.4,1.2) (249.1,1.04) (249.6,2.13) (251.2,2.14)
};
\draw[gridc, line width=0.8bp] (rel axis cs:1,0) -- (rel axis cs:1,1);
\end{axis}

\begin{axis}[
  at={(166bp,73bp)}, anchor=south west,
  width=1309bp, height=702bp, scale only axis,
  xmin=0, xmax=251.2, ymin=0, ymax=120,
  axis x line=none, xtick=\empty,
  axis y line*=left, y axis line style={draw=none},
  ytick={0,20,40,60,80,100,120},
  yticklabels={0K,20K,40K,60K,80K,100K,120K},
  ytick style={draw=none},
  yticklabel style={font=\tickfont, text=labelgray, xshift=-5bp},
  legend columns=-1,
  legend style={at={(1,0.9615)}, anchor=north east, draw=black!20, fill=none,
    font=\legfont, text=legtext, inner xsep=3bp, inner ysep=3bp,
    /tikz/every even column/.append style={column sep=8.9bp}},
  legend image code/.code={\draw[#1, line width=1.6bp] (0bp,0bp) -- (20bp,0bp); \draw[#1, line width=1.6bp, fill=white] (10bp,0bp) circle (5bp);},
]
% BTC price, thousands of USD
\addplot[black, line width=1.8bp, smooth, tension=0.4] coordinates {
(0,68) (0.96,70) (1.92,72.6) (2.88,72.3) (3.84,70.6) (5.18,69.6) (6.53,69.2) (7.49,68.7) (8.25,67.9) (9.21,70.6) (9.79,75.2) (10.75,76.1) (11.9,76.4) (13.24,78.6) (14.2,88.9) (15.16,88.9) (16.12,90.3) (16.89,88) (17.66,90.6) (18.43,87.7) (19.19,89.7) (20.35,91.1) (21.88,90) (23.22,92.3) (24.18,96.6) (25.14,99.1) (26.1,99) (27.26,98) (28.21,98.3) (29.17,97.4) (29.94,92.3) (30.71,96.6) (31.67,96.6) (32.63,97.4) (33.4,95.7) (34.36,97.8) (35.32,96.6) (36.47,98.3) (37.04,95.7) (37.81,98.3) (38.77,99.5) (39.54,98.6) (40.69,98.8) (41.65,97.3) (42.42,101.7) (43.19,97.3) (43.95,101.7) (44.91,99.1) (45.68,101.4) (47.02,100.3) (47.98,102) (48.75,100.9) (49.52,105.5) (50.67,106.3) (51.44,105.1) (52.02,99.1) (52.78,100.9) (53.93,99.1) (54.89,99.7) (55.66,95.7) (56.62,94.9) (57.39,96.6) (58.35,98.8) (59.5,98.3) (60.46,94.9) (61.42,94.2) (62.38,95.2) (63.53,92.8) (64.68,94.9) (65.64,95.7) (66.6,96.6) (67.56,98) (68.52,98.6) (69.67,98.6) (70.44,100.5) (71.21,102) (71.98,96.6) (72.94,96) (73.7,92.8) (74.66,95.7) (75.82,95.7) (77.16,95.7) (78.31,94.5) (79.08,99.1) (80.04,99.5) (81,97.4) (81.96,104.3) (82.92,103.8) (83.69,103.8) (84.45,105.1) (85.41,102.6) (85.99,106) (86.95,104.3) (87.91,103.4) (89.06,103.8) (90.21,102.6) (91.17,104.3) (92.13,102.6) (93.28,103.1) (94.05,104.3) (94.82,105.1) (95.59,103.4) (96.35,101.7) (97.12,98.3) (97.89,100) (98.85,100.9) (99.62,96.9) (100.58,97.4) (101.73,96.6) (103.07,96.6) (104.41,96.6) (105.37,96.9) (105.95,98.3) (106.72,96.6) (107.68,97.8) (108.83,97.4) (109.6,96.6) (110.56,97.3) (111.52,96) (112.48,96.6) (113.44,96.2) (114.4,96.9) (115.16,98.3) (115.93,97.4) (116.89,96.6) (117.85,96.9) (118.81,98.3) (119.58,96.6) (120.54,91.5) (121.31,88.9) (121.88,84.6) (122.84,85) (123.8,84.6) (124.76,85.5) (125.53,86.3) (126.1,94) (126.68,86.3) (127.45,85) (128.41,89.7) (129.37,90.6) (130.33,89.7) (131.09,86.3) (132.05,85.5) (132.82,82.9) (133.59,79.1) (134.36,83.8) (135.12,82.9) (135.89,81.2) (136.66,84.3) (137.62,84.6) (138.58,83.8) (139.54,83.8) (140.31,85) (140.88,83.2) (141.46,86.7) (142.42,86.7) (143.19,83.8) (143.95,86) (144.72,85) (145.68,84.6) (146.64,86.3) (147.6,87.5) (148.56,87.7) (149.52,87.2) (150.48,87.2) (151.44,86) (152.4,83.2) (153.36,82.6) (154.32,82.9) (155.28,85) (156.24,83.2) (157.2,84.3) (158.16,83.8) (159.12,82.9) (159.88,84.6) (160.65,79) (161.61,81.2) (162.38,79.8) (163.15,76.4) (163.72,82.1) (164.3,79.5) (165.07,82.6) (165.83,85) (166.6,84.3) (167.75,84.6) (168.71,83.8) (169.67,84.6) (170.63,84.3) (171.59,85) (172.55,84.3) (173.51,85) (174.47,85) (175.43,85.5) (176.01,88.9) (176.97,93.7) (177.93,94) (178.89,94.5) (179.65,94.5) (180.61,95.2) (181.57,94.5) (182.53,95.2) (183.3,97.4) (184.26,95.7) (185.22,95.7) (186.18,96.9) (186.95,96.9) (187.72,95.7) (188.68,95.7) (189.64,94.9) (190.6,96.2) (191.55,97.4) (192.32,103.4) (193.28,102.6) (194.24,105.1) (195.2,104.3) (195.97,103.4) (196.93,102.6) (197.89,103.8) (198.66,106) (199.62,103.8) (200.58,104.3) (201.54,103.4) (202.5,106.8) (203.26,107.2) (204.22,106) (205.37,108.2) (206.33,109.9) (207.1,112) (207.87,106.8) (208.64,106) (209.4,107.7) (210.36,109.4) (211.32,109.4) (212.09,108.5) (213.05,106.8) (214.01,104.3) (214.97,105.1) (215.93,105.5) (216.89,106) (217.85,106) (218.81,104.8) (219.77,105.5) (220.54,103.1) (221.11,102) (221.88,105.5) (222.84,106) (223.8,106.8) (224.76,110.3) (225.53,110.3) (226.49,109.9) (227.26,106.5) (228.21,105.5) (229.17,106.5) (230.13,105.5) (230.9,106.8) (231.86,104.8) (232.82,106) (233.78,104.3) (234.55,103.8) (235.51,103.1) (236.47,102) (237.43,101.4) (238.2,103.4) (238.77,106) (239.73,106.8) (240.69,107.2) (241.65,107.2) (242.61,107.7) (243.57,107.2) (244.53,108) (245.49,108.9) (246.45,106.5) (247.22,106) (248,108.2) (248.77,109.4) (249.54,108.5) (250.31,108.2) (251.2,108.5)
};
\addlegendentry{Price[USD]}
\addlegendimage{c1}\addlegendentry{>10y}
\addlegendimage{c2}\addlegendentry{7y\_10y}
\addlegendimage{c3}\addlegendentry{5y\_7y}
\addlegendimage{c4}\addlegendentry{3y\_5y}
\addlegendimage{c5}\addlegendentry{2y\_3y}
\addlegendimage{c6}\addlegendentry{1y\_2y}
\addlegendimage{c7}\addlegendentry{6m\_12m}
\addlegendimage{c8}\addlegendentry{3m\_6m}
\addlegendimage{c9}\addlegendentry{1m\_3m}
\addlegendimage{c10}\addlegendentry{1w\_1m}
\addlegendimage{c11}\addlegendentry{1d\_1w}
\addlegendimage{c12}\addlegendentry{24h}
\addlegendimage{aggc}\addlegendentry{agg}
\addlegendimage{smac}\addlegendentry{agg\_7sma}
\end{axis}

% data zoom slider: overview of the full price history
\begin{axis}[
  at={(166bp,16bp)}, anchor=south west,
  width=1312bp, height=27bp, scale only axis,
  xmin=0, xmax=1312, ymin=0, ymax=27, hide axis, clip=false,
]
\addplot[draw=sldb, fill=sldb, fill opacity=0.25, line width=0.6bp] coordinates {
(0,5.3) (585,5.3) (620,5.6) (649,7.8) (671,6.5) (773,6.5) (842,6.2) (902,7) (915,9) (928,13) (941,13.7) (954,10.4) (967,10.7) (980,12) (993,14.5) (1006,12.5) (1021,11.3) (1038,9.8) (1055,8.5) (1089,8) (1106,9.3) (1158,9.8) (1175,12) (1196,15) (1217,15.2) (1243,14.5) (1254,17) (1260,19.5) (1277,20) (1290,18.2) (1307,21.4) (1312,21)
} \closedcycle;
\addplot[draw=sldsel, fill=sldsel, fill opacity=0.2, line width=0.6bp, restrict x to domain=1254:1312] coordinates {
(1243,14.5) (1254,17) (1260,19.5) (1277,20) (1290,18.2) (1307,21.4) (1312,21)
} \closedcycle;
\end{axis}
\draw[sldb, line width=0.8bp, rounded corners=2bp] (166bp,16bp) rectangle (1478bp,43bp);
\fill[sldfill, opacity=0.3] (1420bp,16bp) rectangle (1478bp,43bp);
\fill[sldb, opacity=0.8] (1420bp,43bp) rectangle (1479bp,49.5bp);
\foreach \xx in {1447.5,1449.5,1451.5} {\draw[white, line width=0.5bp] (\xx bp,44.5bp) -- (\xx bp,48bp);}
\draw[handleb, fill=white, line width=0.6bp, rounded corners=1.5bp] (1417.5bp,20.5bp) rectangle (1422.5bp,38.5bp);
\draw[handleb, fill=white, line width=0.6bp, rounded corners=1.5bp] (1475.5bp,20.5bp) rectangle (1480.5bp,38.5bp);

% titles and labels
\node[anchor=west, inner sep=0pt, text=titlec, font=\fontsize{16.6}{19}\selectfont\bfseries] at (5bp,818bp) {BTC: Realized Profit by Age};
\node[text=labelgray, font=\tickfont] at (162bp,794bp) {Price(\$)};
\node[text=labelgray, font=\tickfont] at (1535bp,73bp) {Time};
\end{tikzpicture}
\end{document}
